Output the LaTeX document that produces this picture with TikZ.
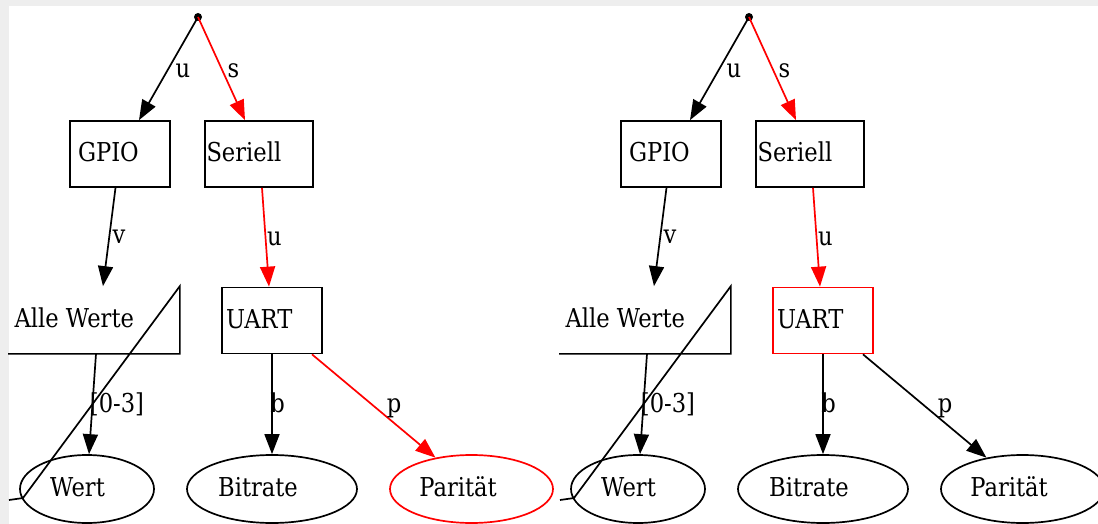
\documentclass[tikz,border=0pt]{standalone}
\usepackage{fontspec}
\setmainfont{DejaVu Serif}[FakeStretch=0.87]
\usetikzlibrary{arrows.meta,calc,shapes.geometric}
\definecolor{bggray}{RGB}{238,238,238}
\definecolor{gvred}{RGB}{255,0,0}
\tikzset{
  gvbox/.style={draw, rectangle, minimum height=66pt, inner sep=0pt},
  gvell/.style={draw, ellipse, minimum height=68pt, inner sep=0pt,
                text height=19pt, text depth=5pt},
  gvedge/.style={-{Triangle[length=20pt,width=15pt]}, line width=1.7pt},
  elab/.style={anchor=base, inner sep=0pt},
  btext/.style={anchor=base west, inner sep=0pt},
}
% #1 = colour of UART box, #2 = colour of Paritaet node and its edge
\newcommand{\gvtree}[2]{%
  \node[circle, fill, inner sep=0pt, minimum size=8pt] (root) at (198,17) {};
  \node[gvbox, minimum width=100pt,
        label={[btext, xshift=8pt, yshift=-8pt]west:GPIO}] (gpio) at (120,154) {};
  \node[gvbox, minimum width=108pt,
        label={[btext, xshift=1.5pt, yshift=-8pt]west:Seriell}] (ser) at (259,154) {};
  \node[gvbox, draw=#1, minimum width=100pt,
        label={[btext, xshift=4pt, yshift=-7.5pt]west:UART}] (uart) at (272,320.5) {};
  \node[rectangle, minimum width=170pt, minimum height=66pt, inner sep=0pt,
        label={[btext, xshift=5.5pt, yshift=-7.5pt]west:Alle Werte}] (alle) at (94,320) {};
  \draw (alle.south west) -- (alle.south east) -- (alle.north east)
        -- (23,498) -- (9,500);
  \node[gvell, minimum width=134pt] (wert) at (87,489) {Wert\hspace*{19pt}};
  \node[gvell, minimum width=170pt] (bit) at (272,489) {Bitrate\hspace*{28pt}};
  \node[gvell, draw=#2, minimum width=163pt] (par) at (471.5,489) {Parität\hspace*{27pt}};
  \draw[gvedge] (root.center) -- ([xshift=19pt]gpio.north);
  \draw[gvedge, gvred] (root.center) -- ([xshift=-14pt]ser.north);
  \draw[gvedge] ([xshift=-4.5pt]gpio.south) -- ([xshift=9pt]alle.north);
  \draw[gvedge] ([xshift=2pt]alle.south) -- ([xshift=2pt]wert.north);
  \draw[gvedge, gvred] ([xshift=3pt]ser.south) -- ([xshift=-3pt]uart.north);
  \draw[gvedge] (uart.south) -- (bit.north);
  \draw[gvedge, #2] ([xshift=40pt]uart.south) -- (par.139);
  \node[elab] (l1) at (183,78) {u};
  \node[elab] (l2) at (233.5,78) {s};
  \node[elab] (l3) at (119,243) {v};
  \node[elab] (l4) at (117,412) {[0-3]};
  \node[elab] (l5) at (274.5,245) {u};
  \node[elab] (l6) at (277.5,412) {b};
  \node[elab] (l7) at (394,412) {p};
}
\begin{document}
\begin{tikzpicture}[x=1pt, y=-1pt, font=\fontsize{26}{30}\selectfont, line width=1.7pt]
  \useasboundingbox (0,0) rectangle (1098,524);
  \clip (0,0) rectangle (1098,524);
  \fill[bggray] (0,0) rectangle (1098,524);
  \fill[white] (9,6) rectangle (1098,524);
  \begin{scope}[name prefix=L-]
    \gvtree{black}{gvred}
  \end{scope}
  \begin{scope}[name prefix=R-, xshift=551pt]
    \gvtree{gvred}{black}
  \end{scope}
\end{tikzpicture}
\end{document}
